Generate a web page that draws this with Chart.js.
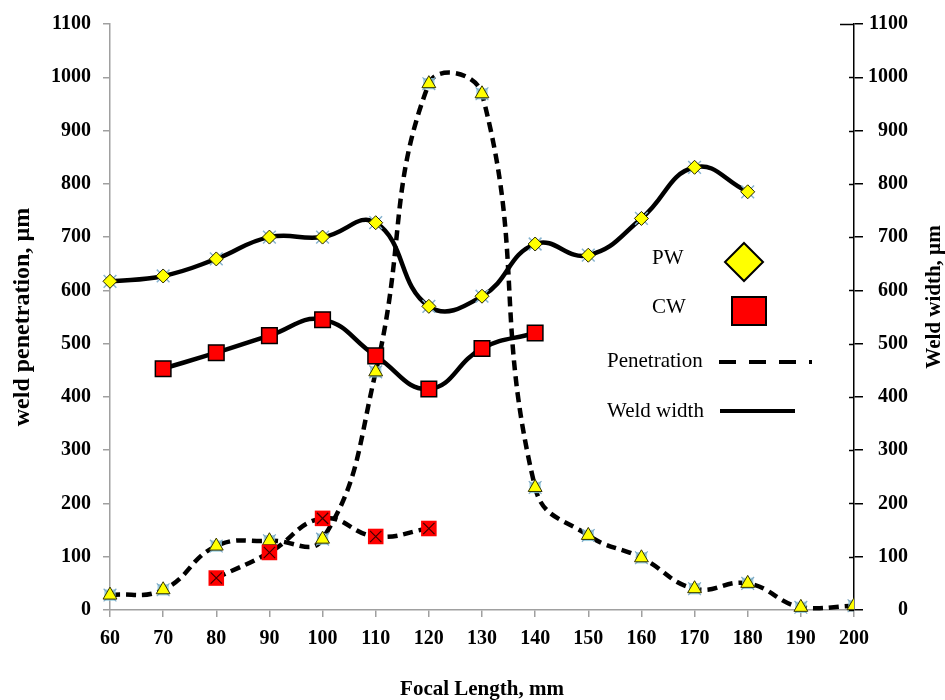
<!DOCTYPE html>
<html>
<head>
<meta charset="utf-8">
<script src="https://cdn.jsdelivr.net/npm/chart.js@4.4.1/dist/chart.umd.min.js"></script>
<style>
  html, body { margin: 0; padding: 0; background: #ffffff; }
  #wrap { width: 945px; height: 700px; }
</style>
</head>
<body>
<div id="wrap"><canvas id="c" width="945" height="700"></canvas></div>
<script>
// ---- data ----
const penFocalPW = [60, 70, 80, 90, 100, 110, 120, 130, 140, 150, 160, 170, 180, 190, 200];
const penetrationPW = [28, 38, 120, 130, 133, 447, 988, 969, 230, 140, 98, 40, 50, 5, 8];

const penFocalCW = [80, 90, 100, 110, 120];
const penetrationCW = [60, 108, 172, 138, 153];

const widthFocalPW = [60, 70, 80, 90, 100, 110, 120, 130, 140, 150, 160, 170, 180];
const widthPW = [617, 627, 659, 700, 700, 727, 570, 589, 687, 666, 735, 831, 785];

const widthFocalCW = [70, 80, 90, 100, 110, 120, 130, 140];
const widthCW = [453, 483, 515, 545, 477, 415, 491, 520];

const xTitle = 'Focal Length, mm';
const yLeftTitle = 'weld penetration, µm';
const yRightTitle = 'Weld width, µm';
const legendItems = ['PW', 'CW', 'Penetration', 'Weld width'];

// ---- helpers ----
const pts = (xs, ys) => xs.map((x, i) => ({ x: x, y: ys[i] }));
const SERIF = '"Liberation Serif", "Times New Roman", serif';
const TENSION = 0.45;
const plain = (v) => String(v);

const lineDs = (data, dashed, order) => ({
  data: data, showLine: true, pointRadius: 0, borderColor: '#000000',
  borderWidth: 4.5, borderDash: dashed ? [10, 6] : [], tension: TENSION,
  fill: false, order: order, clip: { left: 20, top: 20, right: 0, bottom: 20 }
});
const markDs = (data, style, radius, bg, border, bw, order) => ({
  data: data, showLine: false, pointStyle: style, pointRadius: radius,
  pointBackgroundColor: bg, pointBorderColor: border, pointBorderWidth: bw,
  order: order, clip: { left: 20, top: 20, right: 0, bottom: 20 }
});

const dPenPW = pts(penFocalPW, penetrationPW);
const dPenCW = pts(penFocalCW, penetrationCW);
const dWPW = pts(widthFocalPW, widthPW);
const dWCW = pts(widthFocalCW, widthCW);

const extras = {
  id: 'extras',
  afterDraw(chart) {
    const ctx = chart.ctx;
    const ca = chart.chartArea;
    const yr = chart.scales.yRight;
    ctx.save();
    // inward tick marks on right axis
    ctx.strokeStyle = '#000000';
    ctx.lineWidth = 1.5;
    for (let v = 0; v <= 1100; v += 100) {
      const y = Math.round(yr.getPixelForValue(v)) + 0.5;
      ctx.beginPath();
      ctx.moveTo(ca.right - (v === 1100 ? 14 : 5), y);
      ctx.lineTo(ca.right, y);
      ctx.stroke();
    }
    // right axis title (reads bottom to top)
    ctx.fillStyle = '#000000';
    ctx.font = 'bold 21px ' + SERIF;
    ctx.textAlign = 'center';
    ctx.textBaseline = 'middle';
    ctx.translate(935, 297);
    ctx.rotate(-Math.PI / 2);
    ctx.fillText(yRightTitle, 0, 0);
    ctx.restore();

    // legend
    ctx.save();
    ctx.fillStyle = '#000000';
    ctx.font = '21px ' + SERIF;
    ctx.textAlign = 'left';
    ctx.textBaseline = 'alphabetic';
    ctx.fillText(legendItems[0], 652, 264);
    ctx.fillText(legendItems[1], 652, 313);
    ctx.fillText(legendItems[2], 607, 367);
    ctx.fillText(legendItems[3], 607, 417);
    // diamond
    ctx.beginPath();
    ctx.moveTo(744, 243); ctx.lineTo(763, 262); ctx.lineTo(744, 281); ctx.lineTo(725, 262); ctx.closePath();
    ctx.fillStyle = '#ffff00'; ctx.fill();
    ctx.lineWidth = 2; ctx.strokeStyle = '#000000'; ctx.stroke();
    // square
    ctx.beginPath();
    ctx.rect(732, 297, 34, 28);
    ctx.fillStyle = '#ff0000'; ctx.fill();
    ctx.lineWidth = 2; ctx.stroke();
    // dashed line
    ctx.beginPath();
    ctx.setLineDash([17, 13]);
    ctx.lineWidth = 4;
    ctx.moveTo(719, 362); ctx.lineTo(812, 362);
    ctx.stroke();
    // solid line
    ctx.beginPath();
    ctx.setLineDash([]);
    ctx.moveTo(720, 411); ctx.lineTo(795, 411);
    ctx.stroke();
    ctx.restore();
  }
};

new Chart(document.getElementById('c'), {
  type: 'scatter',
  data: {
    datasets: [
      lineDs(dPenPW, true, 20),
      lineDs(dPenCW, true, 19),
      lineDs(dWPW, false, 18),
      lineDs(dWCW, false, 17),
      markDs(dPenPW, 'rect', 8, 'rgba(140,200,220,0.85)', 'rgba(140,200,220,0.85)', 0, 12),
      markDs(dPenPW, 'crossRot', 9, 'rgba(0,0,0,0)', '#7fa9c4', 1.2, 11),
      markDs(dPenPW, 'triangle', 8, '#ffff00', '#333300', 1, 10),
      markDs(dWPW, 'crossRot', 9, 'rgba(0,0,0,0)', '#86b3cf', 1.5, 9),
      markDs(dWPW, 'rectRot', 7, '#ffff00', '#222200', 1, 8),
      markDs(dPenCW, 'rect', 11, '#ff0000', '#ff0000', 0, 7),
      markDs(dPenCW, 'crossRot', 8, 'rgba(0,0,0,0)', '#400000', 1.2, 6),
      markDs(dWCW, 'rect', 11, '#ff0000', '#000000', 1.5, 5)
    ]
  },
  options: {
    responsive: false,
    animation: false,
    events: [],
    layout: { padding: { top: 19, left: 0, right: 37, bottom: 0 } },
    plugins: { legend: { display: false }, tooltip: { enabled: false } },
    scales: {
      x: {
        type: 'linear', position: 'bottom', min: 60, max: 200,
        afterFit(s) { s.height = 90; },
        border: { display: true, color: '#a0a0a0', width: 1.5 },
        grid: { display: true, drawOnChartArea: false, drawTicks: true, tickLength: 7, color: '#a0a0a0', lineWidth: 1.5 },
        ticks: { stepSize: 10, padding: 10, callback: plain, color: '#000000', font: { family: SERIF, size: 20, weight: 'bold' } },
        title: { display: true, text: xTitle, color: '#000000', padding: { top: 0, bottom: 0 },
                 font: { family: SERIF, size: 21, weight: 'bold', lineHeight: 1 } }
      },
      y: {
        type: 'linear', position: 'left', min: 0, max: 1100,
        afterFit(s) { s.width = 110; },
        border: { display: true, color: '#a0a0a0', width: 1.5 },
        grid: { display: true, drawOnChartArea: false, drawTicks: true, tickLength: 7, color: '#a0a0a0', lineWidth: 1.5 },
        ticks: { stepSize: 100, padding: 12, callback: plain, color: '#000000', font: { family: SERIF, size: 20, weight: 'bold' } },
        title: { display: true, text: yLeftTitle, color: '#000000', padding: { top: 8, bottom: 0 },
                 font: { family: SERIF, size: 24, weight: 'bold', lineHeight: 1.2 } }
      },
      yRight: {
        type: 'linear', position: 'right', min: 0, max: 1100,
        afterFit(s) { s.width = 54; },
        border: { display: true, color: '#000000', width: 1.5 },
        grid: { display: true, drawOnChartArea: false, drawTicks: true, tickLength: 9, color: '#000000', lineWidth: 1.5 },
        ticks: { stepSize: 100, padding: 3, crossAlign: 'far', callback: plain, color: '#000000', font: { family: SERIF, size: 20, weight: 'bold' } }
      }
    }
  },
  plugins: [extras]
});
</script>
</body>
</html>
